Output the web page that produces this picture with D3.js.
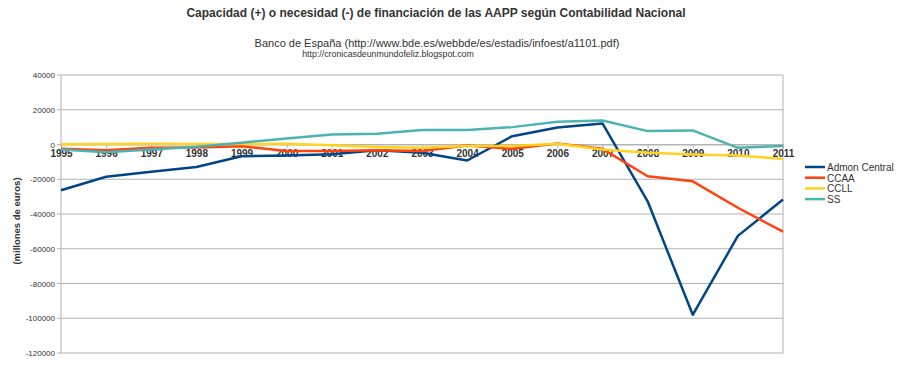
<!DOCTYPE html>
<html lang="en">
<head>
	<meta charset="UTF-8">
	<title>Capacidad o necesidad de financiación AAPP</title>
	<script type="text/javascript" src="https://d3js.org/d3.v7.min.js"></script>
	<style>
		body { margin: 0; background: #fff; }
		svg { display: block; font-family: "Liberation Sans", Arial, sans-serif; }
	</style>
</head>
<body>
	<svg id="chart" width="910" height="368"></svg>

	<script type="text/javascript">
		// data (millones de euros)
		var years = ["1995", "1996", "1997", "1998", "1999", "2000", "2001", "2002", "2003",
			"2004", "2005", "2006", "2007", "2008", "2009", "2010", "2011"];
		var admonCentral = [-26300, -18600, -15700, -12900, -6800, -6300, -5600, -3300, -4800,
			-9200, 4800, 9800, 12100, -32700, -98000, -52600, -31700];
		var ccaa = [-2500, -3300, -1900, -1700, -1000, -3800, -3800, -3300, -3800,
			-600, -2500, 600, -2500, -18300, -21200, -36400, -50200];
		var ccll = [200, 300, 400, 300, 300, 500, -400, -1500, -1900,
			-900, -900, 400, -2900, -4800, -5800, -6300, -8300];
		var ss = [-2900, -4400, -2900, -1300, 1000, 3500, 5800, 6200, 8300,
			8300, 10000, 13100, 13800, 7700, 8100, -1900, -900];
		var yTicks = [40000, 20000, 0, -20000, -40000, -60000, -80000, -100000, -120000];

		var series = [
			{name: "Admon Central", values: admonCentral, color: "#004586"},
			{name: "CCAA", values: ccaa, color: "#ff420e"},
			{name: "CCLL", values: ccll, color: "#ffd320"},
			{name: "SS", values: ss, color: "#4bb4b2"}
		];

		var svg = d3.select("#chart");
		// note: "top" is taken by window.top, so use other names
		var plotLeft = 61, plotRight = 783, plotTop = 75, plotBottom = 353;

		var x = d3.scalePoint().domain(years).range([plotLeft, plotRight]);
		var y = d3.scaleLinear().domain([-120000, 40000]).range([plotBottom, plotTop]);

		// titles
		svg.append("text")
			.attr("x", 436).attr("y", 17)
			.attr("text-anchor", "middle")
			.style("font-size", "12px").style("font-weight", "bold").style("fill", "#333")
			.text("Capacidad (+) o necesidad (-) de financiación de las AAPP según Contabilidad Nacional");
		svg.append("text")
			.attr("x", 437).attr("y", 47)
			.attr("text-anchor", "middle")
			.style("font-size", "11px").style("fill", "#333")
			.text("Banco de España (http://www.bde.es/webbde/es/estadis/infoest/a1101.pdf)");
		svg.append("text")
			.attr("x", 388).attr("y", 57)
			.attr("text-anchor", "middle")
			.style("font-size", "8.8px").style("fill", "#333")
			.text("http://cronicasdeunmundofeliz.blogspot.com");

		// grid lines
		svg.append("g").selectAll("line").data(yTicks).enter().append("line")
			.attr("x1", plotLeft - 4).attr("x2", plotRight)
			.attr("y1", function(d) {return y(d)}).attr("y2", function(d) {return y(d)})
			.attr("stroke", "#b3b3b3").attr("stroke-width", 1);

		// y tick labels
		svg.append("g").selectAll("text").data(yTicks).enter().append("text")
			.attr("x", plotLeft - 6).attr("y", function(d) {return y(d) + 3})
			.attr("text-anchor", "end")
			.style("font-size", "8px").style("fill", "#333")
			.text(function(d) {return d});

		// axis lines
		svg.append("line")
			.attr("x1", plotLeft).attr("x2", plotLeft).attr("y1", plotTop).attr("y2", plotBottom)
			.attr("stroke", "#b3b3b3");
		svg.append("line")
			.attr("x1", plotRight).attr("x2", plotRight).attr("y1", plotTop).attr("y2", plotBottom)
			.attr("stroke", "#b3b3b3");

		// x axis at zero
		var axisX = d3.axisBottom(x).tickSize(4).tickPadding(1);
		var gx = svg.append("g")
			.attr("transform", "translate(0," + y(0) + ")")
			.call(axisX);
		gx.select(".domain").attr("stroke", "#b3b3b3");
		gx.selectAll(".tick line").attr("stroke", "#b3b3b3");
		gx.selectAll(".tick text")
			.style("font-size", "10px").style("font-weight", "bold").style("fill", "#333")
			.style("font-family", "'Liberation Sans', Arial, sans-serif");

		// y axis title
		svg.append("text")
			.attr("transform", "translate(20,221) rotate(-90)")
			.attr("text-anchor", "middle")
			.style("font-size", "9.5px").style("font-weight", "bold").style("fill", "#333")
			.text("(millones de euros)");

		// lines (drawn over the year labels, as in the original)
		var line = d3.line()
			.x(function(d, i) {return x(years[i])})
			.y(function(d) {return y(d)});
		svg.append("g").selectAll("path").data(series).enter().append("path")
			.attr("d", function(d) {return line(d.values)})
			.attr("fill", "none")
			.attr("stroke", function(d) {return d.color})
			.attr("stroke-width", 2.5)
			.attr("stroke-linejoin", "round");

		// legend
		var legend = svg.append("g").selectAll("g").data(series).enter().append("g")
			.attr("transform", function(d, i) {return "translate(805," + (167 + i * 10.7) + ")"});
		legend.append("line")
			.attr("x1", 0).attr("x2", 20).attr("y1", 0).attr("y2", 0)
			.attr("stroke", function(d) {return d.color}).attr("stroke-width", 2.5);
		legend.append("text")
			.attr("x", 22).attr("y", 4)
			.style("font-size", "10px").style("fill", "#333")
			.text(function(d) {return d.name});
	</script>
</body>
</html>
